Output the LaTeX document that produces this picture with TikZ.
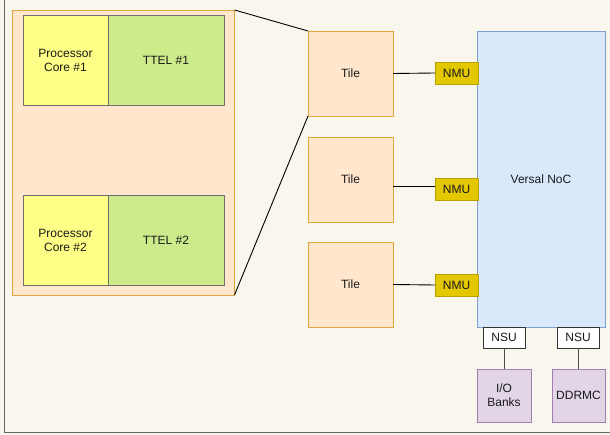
\documentclass[tikz,border=0pt]{standalone}
\usepackage{fontspec}
\setmainfont{Liberation Sans}
\definecolor{bgc}{HTML}{F9F6EE}
\definecolor{orf}{HTML}{FFE6CC}
\definecolor{ord}{HTML}{E0A83A}
\definecolor{ylf}{HTML}{FFFF88}
\definecolor{grf}{HTML}{CDEB8B}
\definecolor{dkd}{HTML}{6E6E6E}
\definecolor{blf}{HTML}{DAE8FC}
\definecolor{bld}{HTML}{7EA0CC}
\definecolor{nmf}{HTML}{E3C800}
\definecolor{nmd}{HTML}{B8A000}
\definecolor{puf}{HTML}{E1D5E7}
\definecolor{pud}{HTML}{A07FB0}
\begin{document}
\begin{tikzpicture}[x=1pt,y=-1pt,
  base/.style={rectangle,inner sep=0pt,outer sep=0pt,line width=0.9pt,font=\fontsize{12}{14}\selectfont,align=center,text=black!90},
  orbox/.style={base,fill=orf,draw=ord},
  pcbox/.style={base,fill=ylf,draw=dkd},
  ttbox/.style={base,fill=grf,draw=dkd},
  nmubox/.style={base,fill=nmf,draw=nmd,minimum width=43pt,minimum height=22pt},
  nsubox/.style={base,fill=white,draw=black!80,minimum width=42pt,minimum height=21pt},
  pubox/.style={base,fill=puf,draw=pud,minimum width=54pt,minimum height=53pt},
  conn/.style={line width=0.9pt,draw=black},
  nconn/.style={line width=0.9pt,draw=black!70}]
\useasboundingbox (0,0) rectangle (610,435);
\fill[bgc] (0,0) rectangle (610,435);
\draw[line width=1.2pt,draw=black!60] (4.5,-5) -- (4.5,432.5) -- (615,432.5);

\node[orbox,minimum width=222pt,minimum height=285pt] (big) at (123.5,152.5) {};
\node[pcbox,minimum width=85pt,minimum height=90pt] (pc1) at (65.5,60) {Processor\\Core \#1};
\node[ttbox,minimum width=116pt,minimum height=90pt] (tt1) at (166,60) {TTEL \#1};
\node[pcbox,minimum width=85pt,minimum height=90pt] (pc2) at (65.5,240) {Processor\\Core \#2};
\node[ttbox,minimum width=116pt,minimum height=90pt] (tt2) at (166,240) {TTEL \#2};

\node[orbox,minimum width=85pt,minimum height=85pt] (tile1) at (350.5,73.5) {Tile};
\node[orbox,minimum width=85pt,minimum height=85pt] (tile2) at (350.5,179.5) {Tile};
\node[orbox,minimum width=85pt,minimum height=85pt] (tile3) at (350.5,284.5) {Tile};

\node[base,fill=blf,draw=bld,minimum width=128pt,minimum height=296pt] (noc) at (541,179) {Versal NoC};

\node[nmubox] (nmu1) at (456.5,73) {NMU};
\node[nmubox] (nmu2) at (456.5,189.5) {NMU};
\node[nmubox] (nmu3) at (456.5,285) {NMU};

\node[nsubox] (nsu1) at (504,337.5) {NSU};
\node[nsubox] (nsu2) at (578,337.5) {NSU};
\node[pubox] (io) at (504,395.5) {I/O\\Banks};
\node[pubox,minimum width=53pt] (ddr) at (578.5,395.5) {DDRMC};

\draw[conn] (big.north east) -- (tile1.north west);
\draw[conn] (big.south east) -- (tile1.south west);
\draw[conn] (tile1.east) -- (nmu1.west);
\draw[conn] ([yshift=-6.5pt]tile2.east) -- ([yshift=3.5pt]nmu2.west);
\draw[conn] (tile3.east) -- (nmu3.west);
\draw[nconn] (nsu1.south) -- (io.north);
\draw[nconn] (nsu2.south) -- (nsu2.south |- ddr.north);
\end{tikzpicture}
\end{document}
